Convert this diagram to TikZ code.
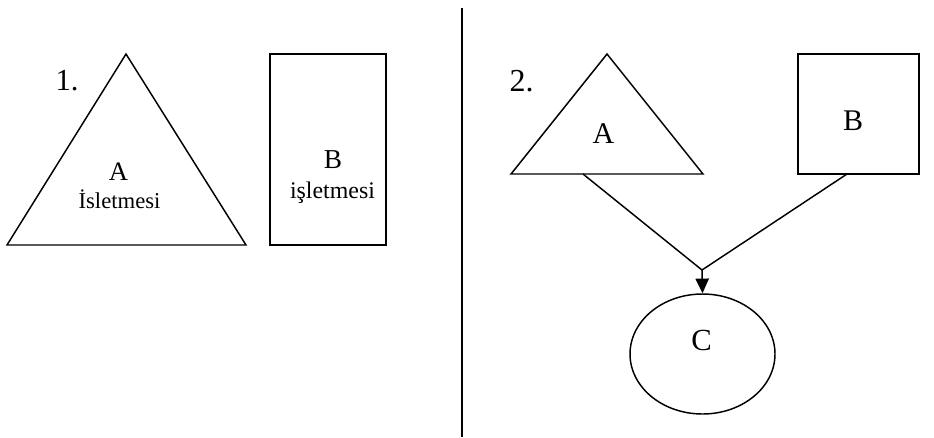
\documentclass[tikz,border=0pt]{standalone}
\usepackage{fontspec}
\setmainfont{Liberation Serif}
\usetikzlibrary{arrows.meta,shapes.geometric}
\begin{document}
\begin{tikzpicture}[x=0.75pt,y=-0.75pt,line width=1.1pt,
  outl/.style={draw=black,line width=1.1pt},
  lbl/.style={inner sep=0pt,anchor=base},
  conn/.style={draw=black,line width=1.1pt}]
\useasboundingbox (0,0) rectangle (934,437);
% divider
\coordinate (dtop) at (462,8);
\coordinate (dbot) at (462,437);
\draw[outl] (dtop) -- (dbot);
% part 1
\node[lbl,font=\fontsize{23}{25}\selectfont] (n1) at (67,90) {1.};
\draw[outl] (126,54) -- (246,245) -- (7,245) -- cycle;
\node[lbl,font=\fontsize{20}{22}\selectfont] (ta) at (118.5,180) {A};
\node[lbl,font=\fontsize{17}{19}\selectfont] (tal) at (119.5,208) {İsletmesi};
\node[outl,minimum width=116*0.75pt,minimum height=191*0.75pt,inner sep=0pt] (rb) at (328,149.5) {};
\node[lbl,font=\fontsize{20.5}{22}\selectfont] (rbl) at (333,168) {B};
\node[lbl,font=\fontsize{17.9}{20}\selectfont] (rbl2) at (332.5,198) {işletmesi};
% part 2
\node[lbl,font=\fontsize{24}{26}\selectfont] (n2) at (521.5,91) {2.};
\draw[outl] (607,54) -- (703,174) -- (511,174) -- cycle;
\coordinate (aout) at (583,174);
\node[lbl,font=\fontsize{22.5}{24}\selectfont] (ta2) at (603.5,143) {A};
\node[outl,minimum width=121*0.75pt,minimum height=120*0.75pt,inner sep=0pt] (rb2) at (858.5,114) {};
\coordinate (bout) at (847,174);
\node[lbl,font=\fontsize{22.5}{24}\selectfont] (rb2l) at (853,130) {B};
\node[ellipse,outl,minimum width=145*0.75pt,minimum height=120*0.75pt,inner sep=0pt] (c) at (702.5,354) {};
\node[lbl,font=\fontsize{23}{25}\selectfont] (cl) at (701.5,350) {C};
\coordinate (j) at (702,270);
\draw[conn] (aout) -- (j);
\draw[conn] (bout) -- (j);
\draw[conn,-{Triangle[length=11pt,width=10pt]}] (j) -- (c.north);
\end{tikzpicture}
\end{document}
